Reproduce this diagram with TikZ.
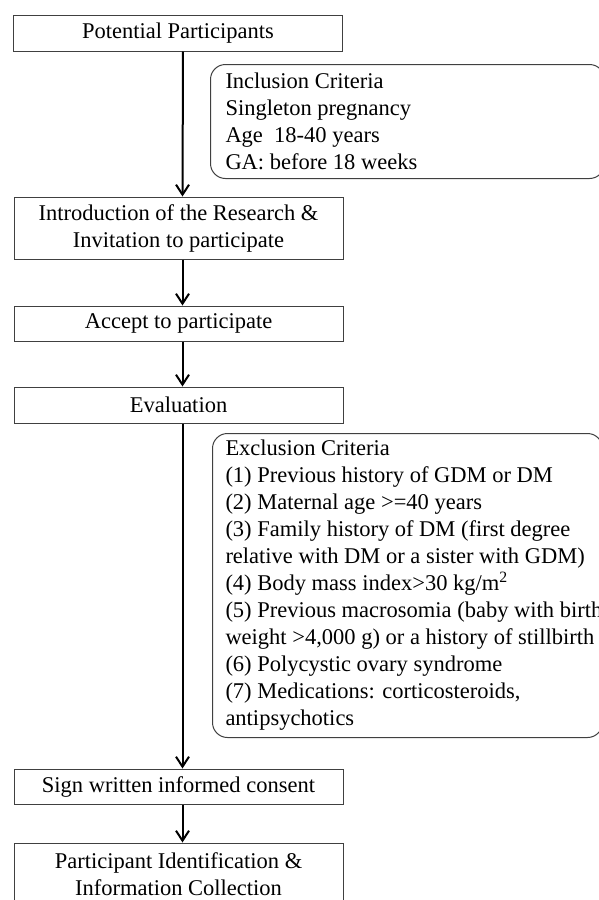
\documentclass[tikz,border=0pt]{standalone}
\usepackage{fontspec}
\setmainfont{Liberation Serif}
\usetikzlibrary{arrows.meta}

\newcommand{\flowfont}{\fontsize{11.25pt}{13.5pt}\selectfont}

\tikzset{
  stepbox/.style={draw=black!75, line width=0.5pt, minimum width=164.5pt,
    inner sep=0pt, align=center, font=\flowfont},
  critbox/.style={draw=black!75, line width=0.5pt, rounded corners=7.5pt,
    text width=182pt, inner xsep=7.5pt, inner ysep=0pt, align=flush left,
    anchor=north west, font=\flowfont},
  flow/.style={-{Straight Barb[length=5pt,width=6.5pt]}, line width=1pt},
}

\begin{document}
\begin{tikzpicture}[x=0.5pt, y=-0.5pt]

      \useasboundingbox (0,0) rectangle (599,900);
      \clip (0,0) rectangle (599,900);

      % main steps
      \node[stepbox, minimum height=18pt]   (potential)  at (178,33)    {Potential Participants};
      \node[stepbox, minimum height=31pt]   (intro)      at (178.5,228) {Introduction of the Research \&\\ Invitation to participate};
      \node[stepbox, minimum height=17.5pt] (accept)     at (178.5,323.5) {Accept to participate};
      \node[stepbox, minimum height=18pt]   (evaluation) at (178.5,405) {Evaluation};
      \node[stepbox, minimum height=17.5pt] (consent)    at (178.5,786.5) {Sign written informed consent};
      \node[stepbox, minimum height=31pt]   (collect)    at (178.5,874) {Participant Identification \&\\ Information Collection};

      % criteria
      \node[critbox, minimum height=57pt] (inclusion) at (210,64) {Inclusion Criteria\\
        Singleton pregnancy\\
        Age\ \ 18-40 years\\
        GA: before 18 weeks};
      \node[critbox, minimum height=152pt, inner xsep=6.5pt] (exclusion) at (212,433) {Exclusion Criteria\\
        (1) Previous history of GDM or DM\\
        (2) Maternal age >=40 years\\
        (3) Family history of DM (first degree\\
        \mbox{relative with DM or a sister with GDM)}\\
        (4) Body mass index>30 kg/m\textsuperscript{2}\\
        \mbox{(5) Previous macrosomia (baby with birth}\\
        \mbox{weight >4,000 g) or a history of stillbirth}\\
        (6) Polycystic ovary syndrome\\
        (7) Medications: corticosteroids,\\
        antipsychotics};

      \begin{scope}[every path/.style={flow}]
        \draw ([xshift=2.5pt]potential.south)  -- ([xshift=2pt]intro.north);
        \draw ([xshift=2pt]intro.south)        -- ([xshift=2pt]accept.north);
        \draw ([xshift=2pt]accept.south)       -- ([xshift=2pt]evaluation.north);
        \draw ([xshift=2pt]evaluation.south)   -- ([xshift=2pt]consent.north);
        \draw ([xshift=2pt]consent.south)      -- ([xshift=2pt]collect.north);
      \end{scope}

    \end{tikzpicture}
\end{document}
